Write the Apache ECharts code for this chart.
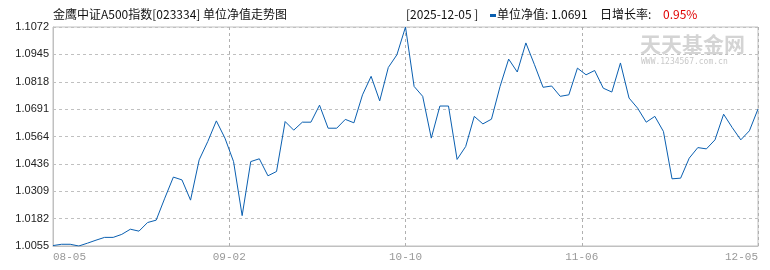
<!DOCTYPE html>
<html><head><meta charset="utf-8">
<script src="https://cdn.jsdelivr.net/npm/echarts@6/dist/echarts.min.js"></script>
<style>html,body{margin:0;padding:0;background:#fff}#c{width:770px;height:270px}</style>
</head><body><div id="c"></div>
<script>
var navValues = [1.0057,1.0063,1.0063,1.0055,1.0068,1.0082,1.0095,1.0095,1.0109,1.0133,
1.0124,1.0164,1.0175,1.0277,1.0375,1.0362,1.0268,1.0455,1.0540,1.0636,
1.0556,1.0447,1.0196,1.0447,1.0460,1.0381,1.0401,1.0633,1.0593,1.0630,
1.0630,1.0709,1.0602,1.0602,1.0643,1.0627,1.0757,1.0843,1.0729,1.0884,
1.0943,1.1072,1.0796,1.0750,1.0556,1.0705,1.0705,1.0457,1.0517,1.0657,
1.0622,1.0644,1.0796,1.0923,1.0863,1.0998,1.0897,1.0792,1.0798,1.0750,
1.0757,1.0881,1.0850,1.0870,1.0788,1.0770,1.0905,1.0742,1.0695,1.0630,
1.0657,1.0587,1.0367,1.0370,1.0463,1.0512,1.0506,1.0548,1.0667,1.0605,
1.0548,1.0590,1.0691];
var xTickLabels = ['08-05','09-02','10-10','11-06','12-05'];
var yTickLabels = ['1.0055','1.0182','1.0309','1.0436','1.0564','1.0691','1.0818','1.0945','1.1072'];
var yMin = 1.0055, yMax = 1.1072;
var yStep = (yMax - yMin) / 8;
var xMax = navValues.length - 1;
var xStep = xMax / 4;
var titleText = '金鹰中证A500指数[023334] 单位净值走势图';
var dateText = '[2025-12-05 ]';
var navText = '单位净值: 1.0691';
var rateLabel = '日增长率:';
var rateText = '0.95%';

var chart = echarts.init(document.getElementById('c'), null, {renderer:'canvas'});
var font = '"Noto Sans CJK SC", "Liberation Sans", sans-serif';
chart.setOption({
  animation:false,
  backgroundColor:'#fff',
  grid:{left:53,right:12,top:27,bottom:24,show:true,borderColor:'#c0c0c0',borderWidth:1,backgroundColor:'transparent'},
  xAxis:{type:'value',min:0,max:xMax,interval:xStep,
    axisLine:{show:true,lineStyle:{color:'#c0c0c0'}},
    axisTick:{show:false},
    splitLine:{show:true,lineStyle:{color:'#b0b0b0',type:[3,3]}},
    axisLabel:{color:'#999',fontSize:11,fontFamily:'"Liberation Mono", monospace',margin:6,
      showMinLabel:true,showMaxLabel:true,alignMinLabel:'left',alignMaxLabel:'right',
      formatter:function(v){return xTickLabels[Math.round(v/xStep)]||'';}}
  },
  yAxis:{type:'value',min:yMin,max:yMax,interval:yStep,
    axisLine:{show:true,lineStyle:{color:'#c0c0c0'}},
    axisTick:{show:false},
    splitLine:{show:true,lineStyle:{color:'#c0c0c0',type:[3,3]}},
    axisLabel:{color:'#222',fontSize:11,fontFamily:'"Liberation Sans", sans-serif',margin:4,
      showMinLabel:true,showMaxLabel:true,
      formatter:function(v){return yTickLabels[Math.round((v-yMin)/yStep)]||'';}}
  },
  series:[{type:'line',data:navValues.map(function(v,i){return [i,v];}),
    showSymbol:false,symbol:'none',lineStyle:{color:'#0a5fb0',width:1},silent:true}],
  graphic:[
    {type:'text',left:53,top:8,style:{text:titleText,fill:'#111',font:'12px '+font}},
    {type:'text',left:406,top:8,style:{text:dateText,fill:'#111',font:'12px '+font}},
    {type:'rect',shape:{x:490,y:14,width:6,height:3},style:{fill:'#0a5fb0'}},
    {type:'text',left:497,top:8,style:{text:navText,fill:'#111',font:'12px '+font}},
    {type:'text',left:600,top:8,style:{text:rateLabel,fill:'#111',font:'12px '+font}},
    {type:'text',left:663,top:8,style:{text:rateText,fill:'#e00000',font:'12px '+font}},
    {type:'text',left:640,top:34,z:-1,style:{text:'天天基金网',fill:'#d4d4d4',font:'bold 21px '+font}},
    {type:'text',left:641,top:58,z:-1,style:{text:'WWW.1234567.com.cn',fill:'#c8c8c8',font:'8px "DejaVu Sans Mono", monospace'}}
  ]
});
</script></body></html>
